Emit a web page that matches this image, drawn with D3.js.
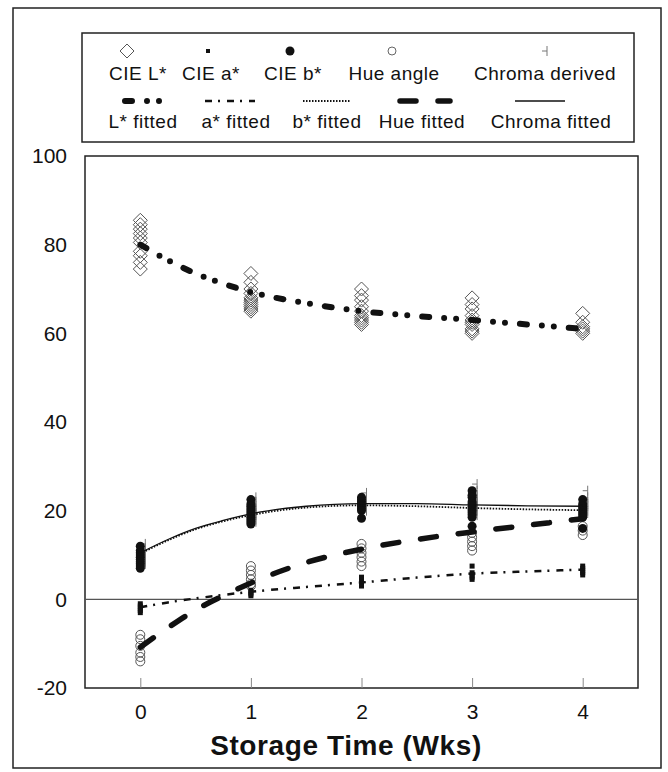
<!DOCTYPE html>
<html><head><meta charset="utf-8">
<script src="https://cdn.jsdelivr.net/npm/d3@7"></script>
<style>body{margin:0;background:#fff}svg{display:block}text{font-family:Arial,"Liberation Sans",Helvetica,sans-serif;fill:#111}</style>
</head><body>
<script>
// ---- data ----
const weeks = [0, 1, 2, 3, 4];
const yTicks = [100, 80, 60, 40, 20, 0, -20];
const lStar = [
  [85.5, 84.5, 83.5, 82.5, 81.5, 80.5, 78.5, 77.5, 76, 74.5],
  [73.5, 71.5, 70, 69, 68, 67.5, 67, 66.5, 66, 65.5, 65],
  [70, 68.5, 67.5, 66, 65, 64, 63.5, 63, 62.5, 62],
  [68, 66.5, 65.5, 64, 63, 62.5, 62, 61, 60.5, 60],
  [64.5, 62.5, 61.5, 61, 60.5, 60]
];
const aStar = [
  [-1, -1.5, -2, -2.5, -3],
  [0.8, 1.2, 1.6, 2],
  [3, 3.5, 4, 4.5, 5],
  [4.5, 5, 5.5, 6, 7.5],
  [5.5, 6, 6.5, 7, 7.5]
];
const bStar = [
  [12, 11, 10.5, 10, 9.5, 9, 8.5, 8, 7.5, 7],
  [22.5, 21.5, 21, 20.5, 20, 19.5, 19, 18.5, 18, 17.5, 17],
  [23, 22.5, 22, 21.5, 21, 20.5, 20, 18.3],
  [24.5, 23.5, 23, 22, 21.5, 21, 20.5, 20, 19.5, 19, 18.5, 16.5],
  [22.5, 21.5, 21, 20.5, 20, 19.5, 19, 18.5, 16]
];
const hueAngle = [
  [-8, -9, -10.5, -12, -13, -14],
  [7.5, 6.5, 5.5, 4.5, 3.5, 3],
  [12.5, 11.5, 10.5, 9.5, 8.5, 7.5],
  [15, 14, 13, 12, 11],
  [16.5, 15.5, 14.5]
];
const chromaDerived = [
  [12.5, 11.5, 11, 10.5, 10, 9.5, 9, 8.5, 8],
  [23, 22, 21, 20.5, 20, 19.5, 19, 18, 17.5],
  [24, 23, 22.5, 22, 21.5, 21, 20],
  [26, 24.5, 23.5, 22.5, 22, 21.5, 21, 20, 19],
  [24.5, 23, 22, 21.5, 21, 20, 19.5]
];
const fitX = [0, 0.25, 0.5, 0.75, 1, 1.5, 2, 2.5, 3, 3.5, 4];
const lFit      = [80, 76.5, 73.5, 71.2, 69.3, 66.8, 65, 63.9, 63, 62, 61];
const aFit      = [-1.8, -0.7, 0.2, 1, 1.7, 2.8, 3.8, 4.9, 5.8, 6.3, 6.7];
const bFit      = [10.3, 13.3, 15.8, 17.6, 19, 20.7, 21.2, 21, 20.6, 20.3, 20.1];
const hueFit    = [-10.8, -6.4, -2.4, 0.8, 3.7, 8.3, 11.3, 13.5, 15.2, 16.7, 18.2];
const chromaFit = [10.5, 13.5, 16, 17.8, 19.3, 21, 21.6, 21.6, 21.3, 21.1, 21];
const xLabel = "Storage Time (Wks)";

// ---- layout ----
const W = 668, H = 772;
const svg = d3.select("body").append("svg").attr("width", W).attr("height", H);
const x = d3.scaleLinear().domain([-0.5, 4.5]).range([85, 638]);
const y = d3.scaleLinear().domain([-20, 100]).range([688, 156]);

// outer frame
svg.append("rect").attr("x", 13).attr("y", 8).attr("width", 648).attr("height", 760)
  .attr("fill", "none").attr("stroke", "#222").attr("stroke-width", 1.5);

// legend box
svg.append("rect").attr("x", 82).attr("y", 33).attr("width", 552).attr("height", 109)
  .attr("fill", "none").attr("stroke", "#222").attr("stroke-width", 1.5);

// plot frame
svg.append("rect").attr("x", x(-0.5)).attr("y", y(100)).attr("width", x(4.5) - x(-0.5)).attr("height", y(-20) - y(100))
  .attr("fill", "none").attr("stroke", "#222").attr("stroke-width", 1.5);

// zero line
svg.append("line").attr("x1", x(-0.5)).attr("x2", x(4.5)).attr("y1", y(0)).attr("y2", y(0))
  .attr("stroke", "#555").attr("stroke-width", 1.2);

// axes
const yAxis = d3.axisLeft(y).tickValues(yTicks).tickSize(0).tickPadding(18).tickFormat(d => String(d));
const gy = svg.append("g").attr("transform", `translate(${x(-0.5)},0)`).call(yAxis);
gy.select(".domain").remove();
gy.selectAll("text").style("font-size", "21px").attr("fill", "#111");

const xAxis = d3.axisBottom(x).tickValues(weeks).tickSize(-10).tickPadding(16).tickFormat(d => String(d));
const gx = svg.append("g").attr("transform", `translate(0,${y(-20)})`).call(xAxis);
gx.select(".domain").remove();
gx.selectAll("line").attr("stroke", "#888");
gx.selectAll("text").style("font-size", "21px").attr("fill", "#111");

svg.append("text").attr("x", 346).attr("y", 755).attr("text-anchor", "middle")
  .style("font-size", "28px").style("font-weight", "bold").style("letter-spacing", "0.6px").text(xLabel);

// marker symbols
function diamond(g, cx, cy, s) {
  g.append("path").attr("d", `M${cx},${cy - s}L${cx + s},${cy}L${cx},${cy + s}L${cx - s},${cy}Z`)
    .attr("fill", "none").attr("stroke", "#555").attr("stroke-width", 1);
}
function chromaMark(g, cx, cy) {
  g.append("path").attr("d", `M${cx - 5},${cy}H${cx}M${cx},${cy - 5}V${cy + 5}`)
    .attr("fill", "none").attr("stroke", "#777").attr("stroke-width", 1);
}
const mk = svg.append("g");
weeks.forEach((w, i) => {
  lStar[i].forEach(v => diamond(mk, x(w), y(v), 7));
  chromaDerived[i].forEach(v => chromaMark(mk, x(w) + 5, y(v)));
  hueAngle[i].forEach(v => mk.append("circle").attr("cx", x(w)).attr("cy", y(v)).attr("r", 4.5)
    .attr("fill", "none").attr("stroke", "#555").attr("stroke-width", 1));
  bStar[i].forEach(v => mk.append("circle").attr("cx", x(w)).attr("cy", y(v)).attr("r", 4.5).attr("fill", "#111"));
  aStar[i].forEach(v => mk.append("rect").attr("x", x(w) - 2.5).attr("y", y(v) - 2.5).attr("width", 5).attr("height", 5).attr("fill", "#111"));
});

// fitted curves
const styles = {
  L:      {data: lFit,      w: 6,   dash: "7,15,0,12,0,15", cap: "round"},
  a:      {data: aFit,      w: 2.5, dash: "7,6,2,7",        cap: "butt"},
  b:      {data: bFit,      w: 1.8, dash: "1.5,1.5",        cap: "butt"},
  hue:    {data: hueFit,    w: 5.5, dash: "16,22",          cap: "round"},
  chroma: {data: chromaFit, w: 1.3, dash: null,             cap: "butt"}
};
const line = d3.line().x(d => x(d[0])).y(d => y(d[1])).curve(d3.curveMonotoneX);
Object.values(styles).forEach(s => {
  svg.append("path").datum(fitX.map((fx, i) => [fx, s.data[i]])).attr("d", line)
    .attr("fill", "none").attr("stroke", "#111").attr("stroke-width", s.w)
    .attr("stroke-dasharray", s.dash).attr("stroke-linecap", s.cap);
});

// legend
const lg = svg.append("g");
const row1 = [
  {label: "CIE L*", cx: 138, sx: 127, type: "diamond"},
  {label: "CIE a*", cx: 211, sx: 208, type: "square"},
  {label: "CIE b*", cx: 293, sx: 290, type: "dot"},
  {label: "Hue angle", cx: 394, sx: 392, type: "circle"},
  {label: "Chroma derived", cx: 545, sx: 547, type: "chroma"}
];
row1.forEach(r => {
  const sy = 51;
  if (r.type === "diamond") diamond(lg, r.sx, sy, 7);
  if (r.type === "square") lg.append("rect").attr("x", r.sx - 2).attr("y", sy - 2).attr("width", 4).attr("height", 4).attr("fill", "#111");
  if (r.type === "dot") lg.append("circle").attr("cx", r.sx).attr("cy", sy).attr("r", 4.5).attr("fill", "#111");
  if (r.type === "circle") lg.append("circle").attr("cx", r.sx).attr("cy", sy).attr("r", 4).attr("fill", "none").attr("stroke", "#666").attr("stroke-width", 1);
  if (r.type === "chroma") chromaMark(lg, r.sx, sy);
  lg.append("text").attr("x", r.cx).attr("y", 80).attr("text-anchor", "middle")
    .style("font-size", "19px").style("letter-spacing", "0.5px").text(r.label);
});
const row2 = [
  {label: "L* fitted", cx: 143, x1: 125, x2: 165, key: "L"},
  {label: "a* fitted", cx: 236, x1: 205, x2: 255, key: "a"},
  {label: "b* fitted", cx: 327, x1: 303, x2: 350, key: "b"},
  {label: "Hue fitted", cx: 422, x1: 400, x2: 450, key: "hue"},
  {label: "Chroma fitted", cx: 551, x1: 515, x2: 565, key: "chroma"}
];
row2.forEach(r => {
  const s = styles[r.key];
  lg.append("line").attr("x1", r.x1).attr("x2", r.x2).attr("y1", 101).attr("y2", 101)
    .attr("stroke", "#111").attr("stroke-width", s.w).attr("stroke-dasharray", s.dash).attr("stroke-linecap", s.cap);
  lg.append("text").attr("x", r.cx).attr("y", 128).attr("text-anchor", "middle")
    .style("font-size", "19px").style("letter-spacing", "0.5px").text(r.label);
});
</script>
</body></html>
